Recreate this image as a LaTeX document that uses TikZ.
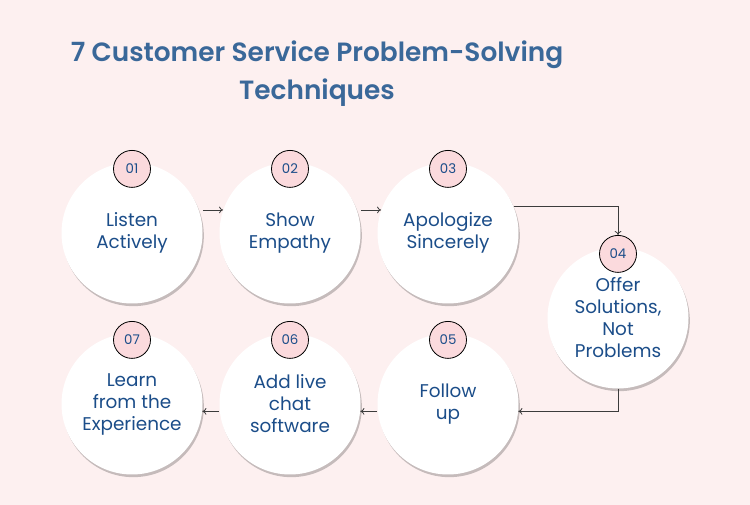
\documentclass[tikz,border=0pt]{standalone}
\usepackage{fontspec}
\setmainfont{Poppins}
\newfontfamily\titlefont{Poppins SemiBold}
\usetikzlibrary{shadows,arrows.meta}

\definecolor{bgpink}{HTML}{FDF0F0}
\definecolor{numpink}{HTML}{FBDADD}
\definecolor{textblue}{HTML}{1B4D89}
\definecolor{titleblue}{HTML}{3A6899}
\definecolor{linkgray}{HTML}{3C3C3C}

\begin{document}
\begin{tikzpicture}[x=0.75pt,y=-0.75pt,
    stepcircle/.style={circle,fill=white,minimum size=105.75pt,inner sep=0pt,align=center,
        text=textblue,font=\fontsize{13.8}{16.5}\selectfont,
        drop shadow={shadow xshift=1pt,shadow yshift=-2pt,opacity=0.22,fill=black}},
    numcircle/.style={circle,draw=black,line width=0.6pt,fill=numpink,minimum size=27.75pt,
        inner sep=0pt,text=textblue,font=\fontsize{10}{11}\selectfont},
    link/.style={draw=linkgray,line width=0.6pt,-{To[length=3pt,width=5pt]}}]
\fill[bgpink] (0,0) rectangle (750,505);
\useasboundingbox (0,0) rectangle (750,505);

\node[align=center,text=titleblue,font=\fontsize{19.8}{28.5}\titlefont] (title)
    at (317,74) {7 Customer Service Problem-Solving\\Techniques};

% top row
\node[stepcircle] (s1) at (132,233) {Listen\\Actively};
\node[stepcircle] (s2) at (290,233) {Show\\Empathy};
\node[stepcircle] (s3) at (448,233) {Apologize\\Sincerely};
\node[stepcircle] (s4) at (618,318) {Offer\\Solutions,\\Not\\Problems};
% bottom row
\node[stepcircle] (s5) at (448,404) {Follow\\up};
\node[stepcircle] (s6) at (290,404) {Add live\\chat\\software};
\node[stepcircle] (s7) at (132,404) {Learn\\from the\\Experience};

\foreach \i in {1,...,7}
    \node[numcircle] (n\i) at ([yshift=-5pt]s\i.north) {0\i};

\draw[link] (s1.east |- s2.161) -- (s2.161);
\draw[link] (s2.east |- s3.161) -- (s3.161);
\draw[link] (s3.22) -| (n4.north);
\draw[link] (s4.south) |- (s5.-6);
\draw[link] (s5.west |- s6.-6) -- (s6.-6);
\draw[link] (s6.west |- s7.-6) -- (s7.-6);
\end{tikzpicture}
\end{document}
